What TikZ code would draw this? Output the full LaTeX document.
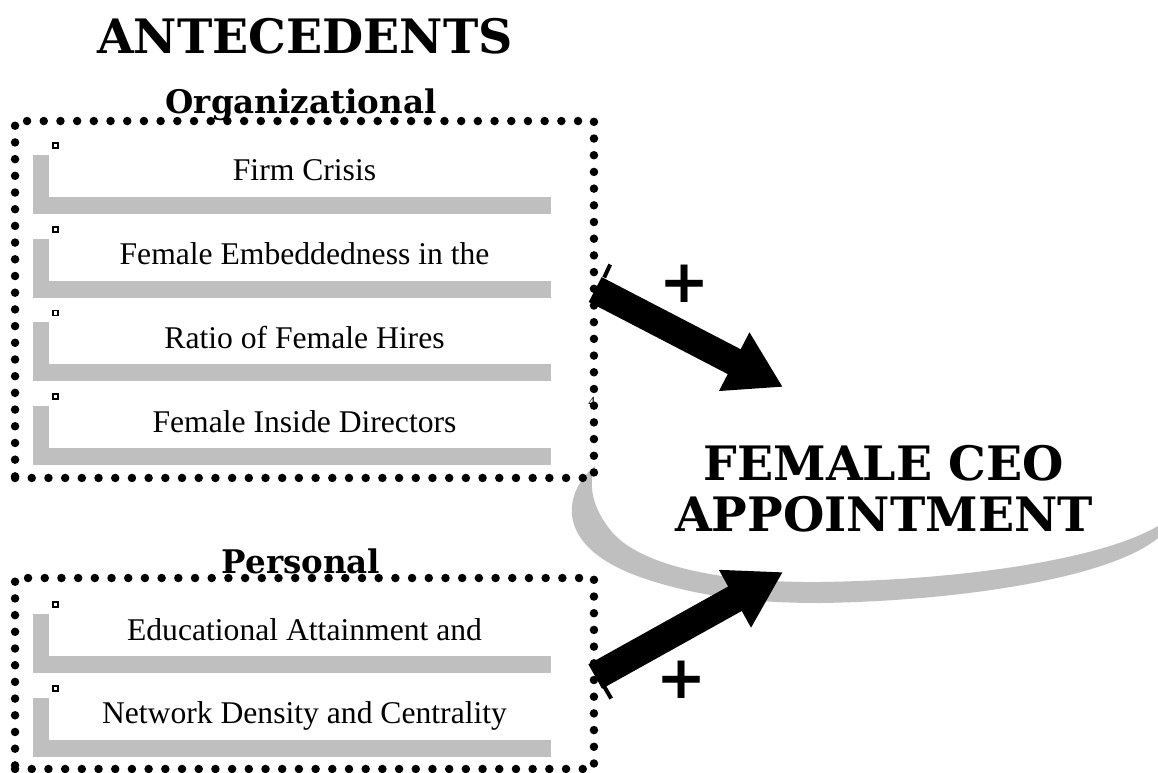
\documentclass[tikz,border=0pt]{standalone}
\usepackage{fontspec}
\usepackage{tikz}
\usetikzlibrary{arrows.meta,positioning,calc}
\setmainfont{Liberation Serif}
\newfontfamily\headfont{DejaVu Serif}
\newfontfamily\signfont{DejaVu Sans}
\definecolor{barGray}{gray}{0.75}

\begin{document}
\begin{tikzpicture}[
    x=0.02cm, y=-0.02cm,
    heading/.style={font=\headfont\bfseries\fontsize{27}{29}\selectfont, align=center},
    group/.style={font=\headfont\bfseries\fontsize{18.5}{20}\selectfont},
    dotbox/.style={draw, line width=0.17cm, line cap=round, dash pattern=on 0pt off 0.334cm, minimum width=11.58cm, inner sep=0pt},
    itembox/.style={minimum width=10.36cm, inner sep=0pt, text height=0.82cm, text depth=0.66cm,
        font=\fontsize{18}{20}\selectfont, execute at begin node=\hspace*{0.5cm},
        path picture={
            \fill[barGray] ([shift={(0,15)}]path picture bounding box.north west) rectangle ([shift={(16,0)}]path picture bounding box.south west);
            \fill[barGray] ([shift={(0,-17)}]path picture bounding box.south west) rectangle (path picture bounding box.south east);
            \draw[fill=white, line width=0.035cm] ([shift={(20,3)}]path picture bounding box.north west) rectangle ++(5,5);
        }},
    bigarrow/.style={line width=0.56cm, -{Triangle[length=1.1cm, width=1.24cm]}},
    tick/.style={line width=0.08cm},
    sign/.style={font=\signfont\bfseries\fontsize{34}{34}\selectfont, inner sep=0pt}
]
    \useasboundingbox (0,0) rectangle (1158,773);
    \fill[white] (0,0) rectangle (1158,773);

    % swoosh under the outcome
    \fill[barGray] (595,466) .. controls (565,490) and (550,545) .. (640,577)
        .. controls (700,598) and (760,603) .. (820,603)
        .. controls (960,601) and (1110,578) .. (1158,538) -- (1158,526)
        .. controls (1100,560) and (960,580) .. (820,582)
        .. controls (720,583) and (640,565) .. (612,532)
        .. controls (592,508) and (588,485) .. (595,466) -- cycle;

    \node[heading] (title) at (305,36) {ANTECEDENTS};

    % organizational antecedents
    \node[group] (orgLabel) at (301,105) {Organizational};
    \node[dotbox, minimum height=7.14cm] (orgbox) at (304.5,299.5) {};
    \node[itembox] (crisis) at (292,177) {Firm Crisis};
    \node[itembox, below=0.18cm of crisis] (embed) {Female Embeddedness in the};
    \node[itembox, below=0.18cm of embed] (hires) {Ratio of Female Hires};
    \node[itembox, below=0.18cm of hires] (inside) {Female Inside Directors};
    \node[font=\fontsize{8}{8}\selectfont, inner sep=0pt] (mark) at (592,402) {4};

    % personal antecedents
    \node[group] (perLabel) at (301,561) {Personal};
    \node[dotbox, minimum height=3.82cm] (perbox) at (304.5,673.5) {};
    \node[itembox] (educ) at (292,636) {Educational Attainment and};
    \node[itembox, below=0.18cm of educ] (network) {Network Density and Centrality};

    % outcome
    \node[heading] (ceo) at (884,489) {FEMALE CEO\\APPOINTMENT};
    \coordinate (upTip) at (783,387);
    \coordinate (downTip) at (783,572);

    \draw[bigarrow] ([shift={(-3,-10)}]orgbox.east) -- (upTip);
    \draw[bigarrow] ([shift={(-3,3)}]perbox.east) -- (downTip);
    \draw[tick] ([shift={(6,-22)}]orgbox.east) -- ++(6,-13);
    \draw[tick] ([shift={(6,13)}]perbox.east) -- ++(7,12);

    \node[sign] (plusUp) at (685,284) {+};
    \node[sign] (plusDown) at (682,680) {+};
\end{tikzpicture}
\end{document}
